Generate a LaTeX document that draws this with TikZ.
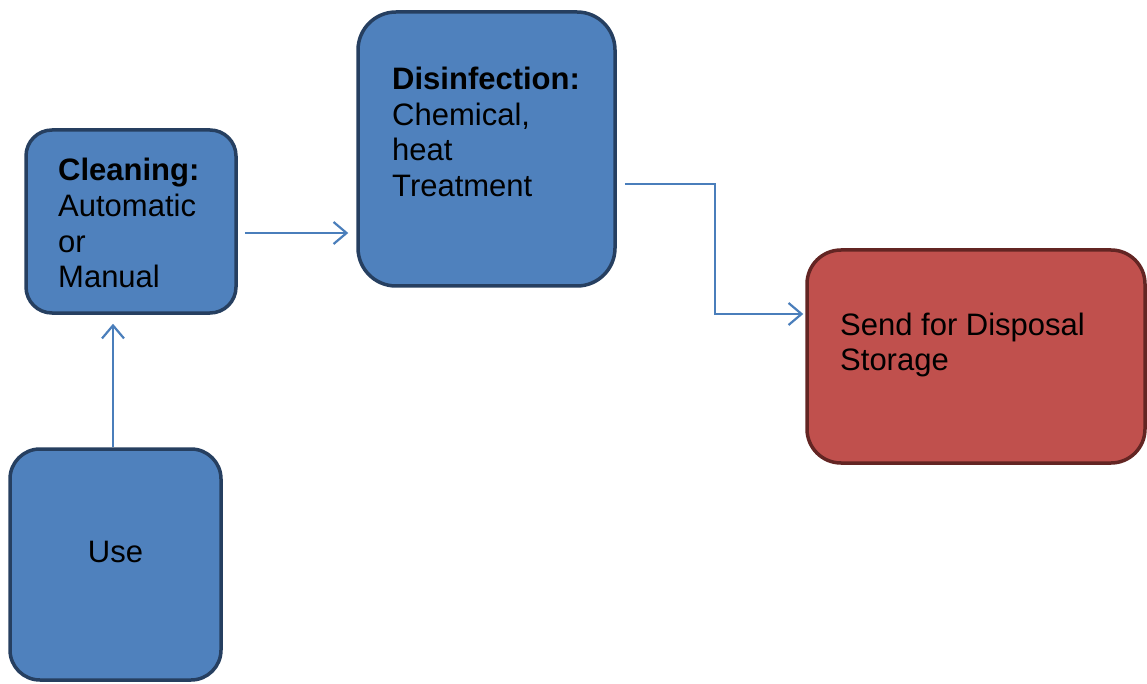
\documentclass[tikz,border=0pt]{standalone}
\usepackage{fontspec}
\setmainfont{Liberation Sans}
\usetikzlibrary{arrows.meta}
\definecolor{bfill}{HTML}{4F81BD}
\definecolor{bdraw}{HTML}{263F60}
\definecolor{rfill}{HTML}{C0504D}
\definecolor{rdraw}{HTML}{632523}
\definecolor{conncol}{HTML}{4A7EBB}
\tikzset{
  box/.style={draw=bdraw, fill=bfill, line width=3.5pt, inner sep=0pt},
  redbox/.style={draw=rdraw, fill=rfill, line width=3.5pt, inner sep=0pt},
  txt/.style={anchor=base west, inner sep=0pt, align=left, font=\fontsize{31}{35.5}\selectfont},
  conn/.style={draw=conncol, line width=2.2pt, -{Straight Barb[length=13pt,width=22pt]}},
}
\begin{document}
\begin{tikzpicture}[x=1pt,y=-1pt]
\useasboundingbox (0,0) rectangle (1147,684);
% boxes
\node[box, rounded corners=26pt, minimum width=210pt, minimum height=183pt] (Cleaning) at (131,221.5) {};
\node[box, rounded corners=38pt, minimum width=257pt, minimum height=274pt] (Disinfection) at (486.5,149) {};
\node[redbox, rounded corners=34pt, minimum width=338pt, minimum height=213pt] (Send) at (976,356.5) {};
\node[box, rounded corners=30pt, minimum width=211pt, minimum height=231pt] (Use) at (115.5,564.5) {};
% texts (anchored at the baseline of the last line)
\node[txt] (tClean) at (58,287.5) {\textbf{Cleaning:}\\Automatic\\or\\Manual};
\node[txt] (tDis) at (392,196.5) {\textbf{Disinfection:}\\Chemical,\\heat\\Treatment};
\node[txt] (tSend) at (840,370.5) {Send for Disposal\\Storage};
\node[txt, anchor=base] (tUse) at (115.5,562) {Use};
% connectors
\coordinate (c1) at (0,233);
\coordinate (c2) at (0,184);
\coordinate (c3) at (715,314);
\draw[conn, shorten >=9pt] ([xshift=-2.5pt]Use.north) -- ([xshift=-2.5pt]Use.north |- Cleaning.south);
\draw[conn, shorten <=7pt, shorten >=8pt] (Cleaning.east |- c1) -- (Disinfection.west |- c1);
\draw[conn, shorten <=8pt, shorten >=2pt] (Disinfection.east |- c2) -| (c3) -- (Send.west |- c3);
\end{tikzpicture}
\end{document}
